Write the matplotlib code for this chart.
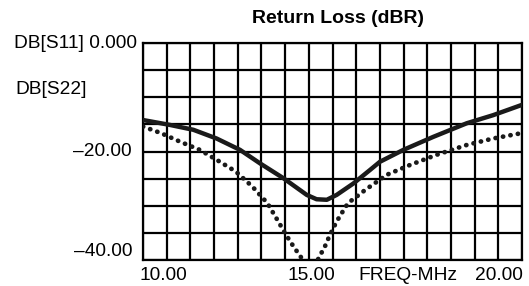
import numpy as np
import matplotlib
matplotlib.use('Agg')
import matplotlib.pyplot as plt

plt.rcParams['font.family'] = ['Liberation Sans', 'DejaVu Sans']

# ── data (MHz, dB) ──
freq_s11 = [10.0, 10.71, 11.33, 11.94, 12.56, 13.09, 13.70, 14.32, 14.58,
            14.85, 15.11, 15.55, 15.99, 16.25, 16.87, 17.66, 18.54, 19.24, 20.0]
db_s11 = [-14.2, -15.1, -16.0, -17.6, -19.7, -22.2, -24.9, -28.0, -28.8,
          -28.9, -28.0, -25.9, -23.4, -21.9, -19.7, -17.3, -14.8, -13.3, -11.4]

freq_s22 = [10.0, 10.47, 10.98, 11.5, 12.03, 12.45, 12.89, 13.28, 13.57,
            13.75, 13.97, 14.19, 14.41, 14.63, 14.80, 14.93, 15.11, 15.24,
            15.41, 15.64, 15.86, 16.43, 17.04, 17.75, 18.54, 19.24, 20.0]
db_s22 = [-15.4, -16.6, -18.2, -19.7, -21.9, -23.7, -26.5, -29.5, -32.9,
          -35.1, -37.5, -39.7, -43.5, -39.7, -37.5, -35.4, -32.9, -31.4,
          -29.5, -28.3, -27.1, -24.3, -22.5, -20.6, -18.8, -17.6, -16.6]

fig = plt.figure(figsize=(5.29, 2.86), dpi=100, facecolor='white')
ax = fig.add_axes([143/529, 1 - 260/286, 379/529, 217/286])

ax.set_xlim(10, 20)
ax.set_ylim(-40, 0)
ax.set_xticks(np.linspace(10, 20, 17))
ax.set_yticks(np.linspace(-40, 0, 9))
ax.grid(True, color='black', linewidth=1.6)
ax.tick_params(length=0, labelbottom=False, labelleft=False)
for s in ax.spines.values():
    s.set_linewidth(1.6)
    s.set_color('black')

ax.plot(freq_s11, db_s11, color='#1a1a1a', linewidth=3.2,
        solid_capstyle='round', solid_joinstyle='round', zorder=3)
ax.plot(freq_s22, db_s22, color='#1a1a1a', linewidth=3.4,
        linestyle=(0, (0.05, 1.55)), dash_capstyle='round', zorder=3)

fs = 13.8
ax.text(0.514, 1.115, 'Return Loss (dBR)', transform=ax.transAxes,
        ha='center', va='center', fontsize=14, fontweight='bold')

# y labels
ax.text(-0.016, 1.0, 'DB[S11] 0.000', transform=ax.transAxes,
        ha='right', va='center', fontsize=fs)
ax.text(15/529, 1 - 90/286, 'DB[S22]', transform=fig.transFigure,
        ha='left', va='center', fontsize=fs)
ax.text(-0.029, 0.5, '\u201320.00', transform=ax.transAxes,
        ha='right', va='center', fontsize=fs)
ax.text(-0.029, (260 - 252) / 217, '\u201340.00', transform=ax.transAxes,
        ha='right', va='center', fontsize=fs)

# x labels
yx = -(276 - 260) / 217
ax.text(-0.008, yx, '10.00', transform=ax.transAxes, ha='left', va='center', fontsize=fs)
ax.text(0.445, yx, '15.00', transform=ax.transAxes, ha='center', va='center', fontsize=fs)
ax.text(0.70, yx, 'FREQ-MHz', transform=ax.transAxes, ha='center', va='center', fontsize=fs)
ax.text(1.003, yx, '20.00', transform=ax.transAxes, ha='right', va='center', fontsize=fs)

fig.savefig('out.png', dpi=100, facecolor='white')
